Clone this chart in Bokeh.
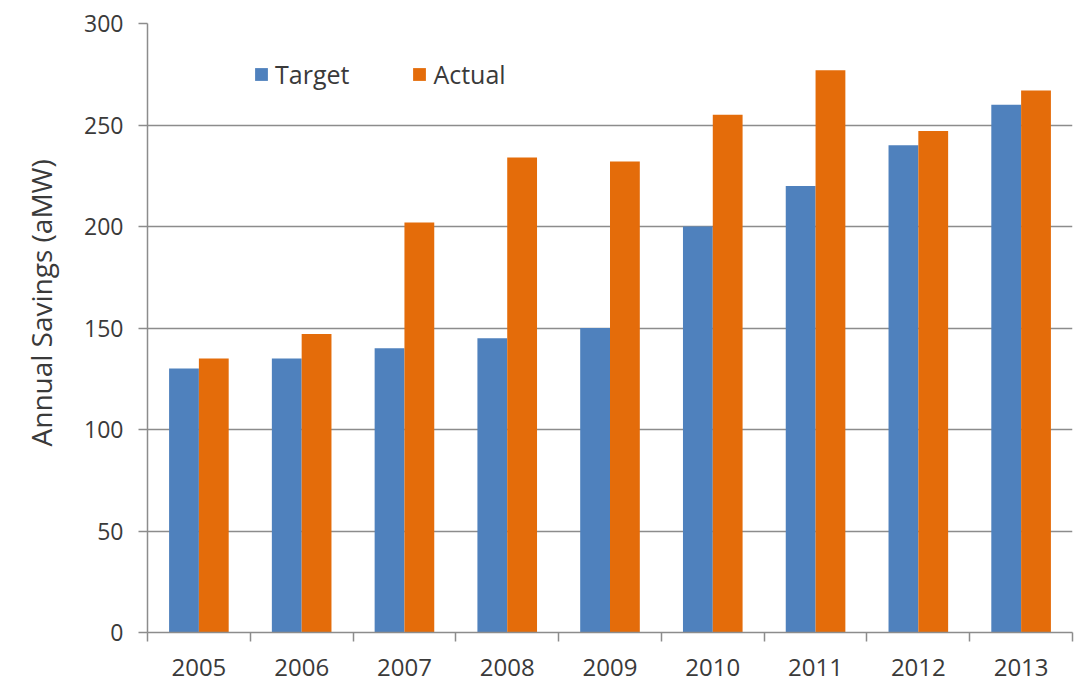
import numpy as np
from bokeh.plotting import figure
from bokeh.models import (Range1d, FixedTicker, Title, Legend, LegendItem,
                          ColumnDataSource)
from bokeh.embed import file_html
from bokeh.resources import INLINE

years = ["2005", "2006", "2007", "2008", "2009", "2010", "2011", "2012", "2013"]
target = [130, 135, 140, 145, 150, 200, 220, 240, 260]
actual = [135, 147, 202, 234, 232, 255, 277, 247, 267]
y_ticks = [0, 50, 100, 150, 200, 250, 300]
y_title = "Annual Savings (aMW)"

BLUE = "#4F81BD"
ORANGE = "#E46C0A"
GRID = "#8C8C8C"
TEXT = "#3A3A3A"
FONT = "Open Sans"

bar_w = 0.29
idx = np.arange(len(years))
src = ColumnDataSource(dict(
    xt=idx + 0.5 - bar_w / 2,
    xa=idx + 0.5 + bar_w / 2,
    target=target,
    actual=actual,
))

p = figure(width=1078, height=681,
           x_range=Range1d(0, len(years)), y_range=Range1d(0, 300),
           output_backend="svg", toolbar_location=None,
           min_border_left=147, min_border_right=6,
           min_border_top=23, min_border_bottom=49)

rt = p.vbar(x="xt", top="target", width=bar_w, source=src,
            fill_color=BLUE, line_color=None)
ra = p.vbar(x="xa", top="actual", width=bar_w, source=src,
            fill_color=ORANGE, line_color=None)

# x axis: labels at category centres, ticks at category boundaries
xa = p.xaxis[0]
xa.ticker = FixedTicker(ticks=list(idx + 0.5), minor_ticks=list(range(len(years) + 1)))
xa.major_label_overrides = {float(i + 0.5): y for i, y in enumerate(years)}
xa.major_tick_line_color = None
xa.minor_tick_line_color = GRID
xa.minor_tick_line_width = 1.5
xa.minor_tick_out = 9
xa.minor_tick_in = 0
xa.axis_line_color = GRID
xa.axis_line_width = 1.5
xa.major_label_text_font = FONT
xa.major_label_text_font_size = "24px"
xa.major_label_text_color = TEXT
xa.major_label_standoff = 17

ya = p.yaxis[0]
ya.ticker = FixedTicker(ticks=y_ticks)
ya.minor_tick_line_color = None
ya.major_tick_line_color = GRID
ya.major_tick_line_width = 1.5
ya.major_tick_out = 9
ya.major_tick_in = 0
ya.axis_line_color = GRID
ya.axis_line_width = 1.5
ya.major_label_text_font = FONT
ya.major_label_text_font_size = "23px"
ya.major_label_text_color = TEXT
ya.major_label_standoff = 15
# blank spacer between tick labels and the rotated title
ya.axis_label = "\u00a0"
ya.axis_label_text_font_size = "12px"
ya.axis_label_standoff = 0

p.xgrid.grid_line_color = None
p.ygrid.grid_line_color = GRID
p.ygrid.grid_line_width = 1.5
p.outline_line_color = None

p.add_layout(Title(text=y_title, align="left", vertical_align="bottom",
                   offset=186, standoff=10,
                   text_font=FONT, text_font_size="28px",
                   text_font_style="normal", text_color=TEXT), "left")

legend = Legend(items=[LegendItem(label="Target", renderers=[rt]),
                       LegendItem(label="Actual", renderers=[ra])],
                orientation="horizontal", location=(106, 541),
                glyph_width=16, glyph_height=16, label_standoff=6,
                spacing=62, padding=0, margin=0,
                border_line_color=None, background_fill_alpha=0,
                label_text_font=FONT, label_text_font_size="25px",
                label_text_color=TEXT)
p.add_layout(legend)

open("out.html", "w").write(file_html(p, INLINE))
